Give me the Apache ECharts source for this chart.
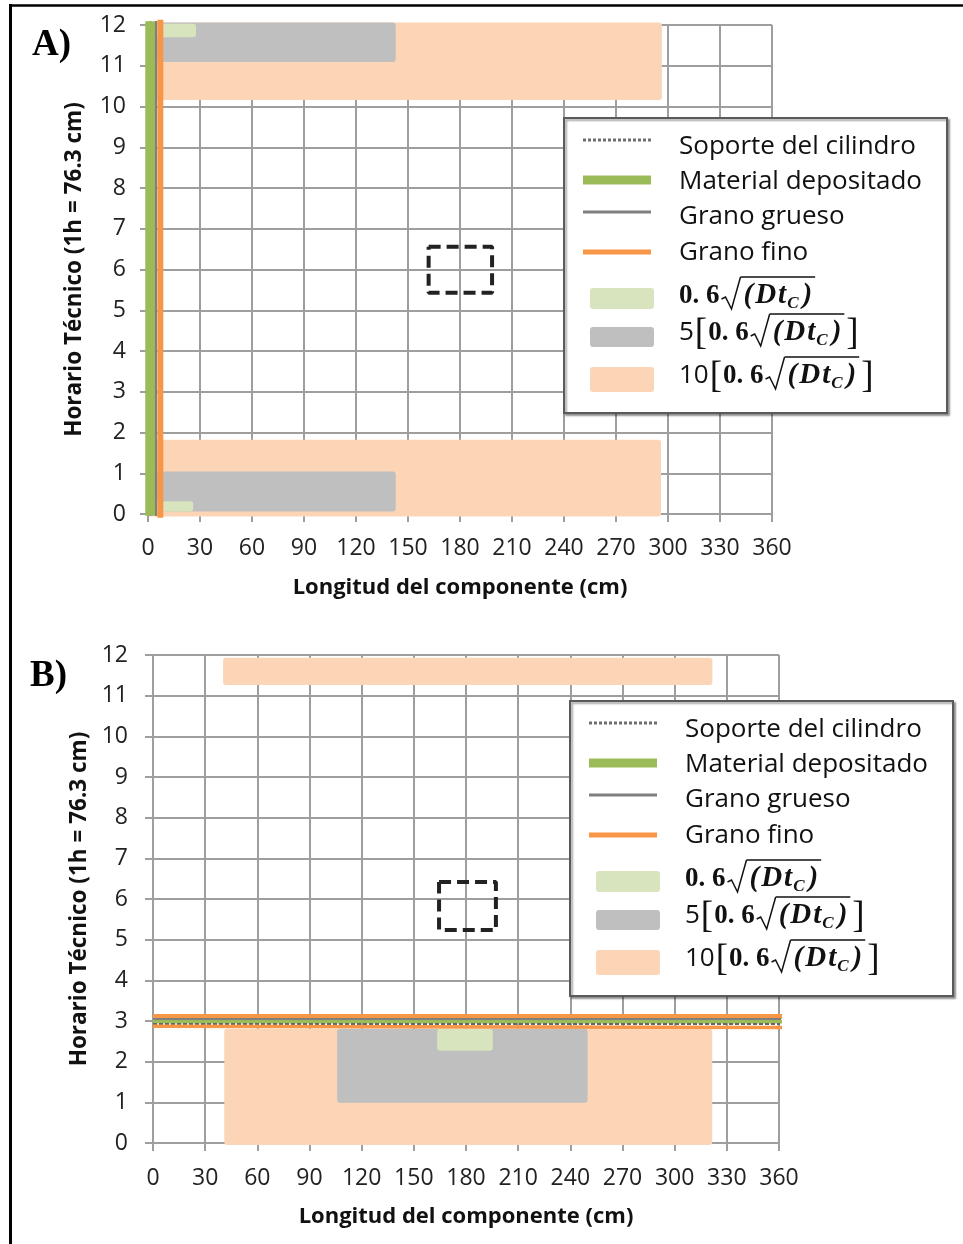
<!DOCTYPE html>
<html>
<head>
<meta charset="utf-8">
<script src="https://cdn.jsdelivr.net/npm/echarts@6/dist/echarts.min.js"></script>
<style>
  html, body { margin: 0; padding: 0; background: #fff; }
  #chart { width: 963px; height: 1244px; }
</style>
</head>
<body>
<div id="chart"></div>
<script>
// ejes
const xTicks = [0, 30, 60, 90, 120, 150, 180, 210, 240, 270, 300, 330, 360];
const yTicks = [0, 1, 2, 3, 4, 5, 6, 7, 8, 9, 10, 11, 12];

// Panel A - zonas [x0, x1, y0, y1]
const zonaA10 = [[0, 296.5, 10.16, 12.06], [0, 296, -0.06, 1.82]];
const zonaA5 = [[0, 142.9, 11.09, 12.06], [0, 142.9, 0.06, 1.04]];
const zonaA06 = [[0, 27.7, 11.7, 12.03], [0, 26.1, 0.06, 0.31]];
// Panel A - lineas verticales
const soporteA = [[1.3, -0.04], [1.3, 12.09]];
const materialA = [[1.3, -0.04], [1.3, 12.09]];
const gruesoA = [[4.6, -0.05], [4.6, 12.1]];
const finoA = [[7.1, -0.09], [7.1, 12.13]];
const cajaA = [[161.9, 6.56], [198.5, 6.56], [198.5, 5.43], [161.9, 5.43], [161.9, 6.56]];

// Panel B - zonas
const zonaB10 = [[40.3, 321.7, 11.26, 11.93], [41, 321.6, -0.05, 2.81]];
const zonaB5 = [[105.9, 249.9, 0.99, 2.81]];
const zonaB06 = [[163.4, 195.4, 2.27, 2.81]];
// Panel B - lineas horizontales
const finoB1 = [[0, 3.11], [363, 3.11]];
const gruesoB = [[0, 3.04], [363, 3.04]];
const materialB = [[0, 2.98], [363, 2.98]];
const soporteB = [[0, 2.925], [363, 2.925]];
const finoB2 = [[0, 2.87], [363, 2.84]];
const cajaB = [[164.5, 6.42], [197.2, 6.42], [197.2, 5.24], [164.5, 5.24], [164.5, 6.42]];

const C = {
  naranja: '#FBD5B5', gris: '#BFBFBF', verde: '#D7E4BD',
  lVerde: '#9BBB59', lNaranja: '#F79646', lGris: '#7F7F7F', grid: '#9e9e9e'
};
const SANS = '"Open Sans"';
const SERIF = '"Liberation Serif","DejaVu Serif",serif';

const chart = echarts.init(document.getElementById('chart'));

function xAx(g, margin) {
  return {
    type: 'value', gridIndex: g, min: xTicks[0], max: xTicks[xTicks.length - 1], interval: 30,
    name: 'Longitud del componente (cm)', nameLocation: 'middle', nameGap: 63,
    nameTextStyle: { fontFamily: SANS, fontWeight: 'bold', fontSize: 22, color: '#111' },
    axisLine: { show: true, onZero: false, lineStyle: { color: C.grid, width: 2 } },
    axisTick: { show: true, length: 8, lineStyle: { color: C.grid, width: 2 } },
    splitLine: { show: true, lineStyle: { color: C.grid, width: 2 } },
    axisLabel: { fontFamily: SANS, fontSize: 23, color: '#222', margin: margin }
  };
}
function yAx(g, gap, margin) {
  return {
    type: 'value', gridIndex: g, min: yTicks[0], max: yTicks[yTicks.length - 1], interval: 1,
    name: 'Horario Técnico (1h = 76.3 cm)', nameLocation: 'middle', nameGap: gap,
    nameTextStyle: { fontFamily: SANS, fontWeight: 'bold', fontSize: 22.5, color: '#111' },
    axisLine: { show: true, lineStyle: { color: C.grid, width: 2 } },
    axisTick: { show: true, length: 8, lineStyle: { color: C.grid, width: 2 } },
    splitLine: { show: true, lineStyle: { color: C.grid, width: 2 } },
    axisLabel: { fontFamily: SANS, fontSize: 23, color: '#222', margin: margin }
  };
}

function zonas(name, data, color, g) {
  return {
    type: 'custom', name, xAxisIndex: g, yAxisIndex: g, data, clip: false, silent: true,
    renderItem: function (params, api) {
      const p0 = api.coord([api.value(0), api.value(3)]);
      const p1 = api.coord([api.value(1), api.value(2)]);
      return {
        type: 'rect',
        shape: { x: p0[0], y: p0[1], width: p1[0] - p0[0], height: p1[1] - p0[1], r: 3 },
        style: { fill: color }
      };
    }
  };
}
function linea(name, data, color, width, g, dash) {
  return {
    type: 'line', name, xAxisIndex: g, yAxisIndex: g, data, showSymbol: false, clip: false,
    silent: true, animation: false,
    lineStyle: { color, width, type: dash || 'solid' }
  };
}

// leyenda dibujada a mano (formulas)
const ctx = document.createElement('canvas').getContext('2d');
function ancho(t, f) { ctx.font = f; return ctx.measureText(t).width; }

function formula(x0, ym, prefijo) {
  const els = [];
  let x = x0;
  const fN = '26px ' + SANS;
  const fM = 'bold 27px ' + SERIF;
  const fIt = 'bold italic 29px ' + SERIF;
  const fSub = 'bold italic 17px ' + SERIF;
  const fBr = '37px ' + SERIF;
  const seg = (t, f, dy) => {
    els.push({ type: 'text', x: x, y: ym + dy, style: { text: t, font: f, fill: '#111', align: 'left', verticalAlign: 'middle' } });
    x += ancho(t, f);
  };
  if (prefijo) { seg(prefijo, fN, 0); x += 1; seg('[', fBr, 1); x += 1; }
  seg('0. 6', fM, 0);
  x += 2;
  const top = ym - 19;
  els.push({ type: 'polyline', shape: { points: [[x, ym + 3], [x + 4, ym + 1], [x + 10, ym + 13], [x + 19, top]] },
    style: { stroke: '#111', lineWidth: 1.5, fill: null } });
  x += 20;
  const xs = x - 1;
  x += 2;
  seg('(', fIt, 0); x += 2;
  seg('D', fIt, 0); x += 2;
  seg('t', fIt, 0); x += 1;
  seg('C', fSub, 8); x += 4;
  seg(')', fIt, 0);
  const xe = x + 3;
  els.push({ type: 'line', shape: { x1: xs, y1: top, x2: xe, y2: top }, style: { stroke: '#111', lineWidth: 1.5 } });
  if (prefijo) { x += 5; seg(']', fBr, 1); }
  return els;
}

function leyenda(bx, by) {
  const els = [];
  els.push({ type: 'rect', shape: { x: bx, y: by, width: 383, height: 295 },
    style: { fill: '#fff', stroke: '#5a5a5a', lineWidth: 2, shadowColor: 'rgba(0,0,0,0.35)', shadowBlur: 2, shadowOffsetX: 2, shadowOffsetY: 2 } });
  const lx1 = bx + 19, lx2 = bx + 87;
  const filas = [
    { t: 'Soporte del cilindro', y: 22, c: '#6f6f6f', w: 3, d: [3, 2] },
    { t: 'Material depositado', y: 62, c: C.lVerde, w: 9 },
    { t: 'Grano grueso', y: 94, c: C.lGris, w: 3 },
    { t: 'Grano fino', y: 134, c: C.lNaranja, w: 5 }
  ];
  const ty = [29, 64, 99, 135];
  filas.forEach((f, i) => {
    els.push({ type: 'line', shape: { x1: lx1, y1: by + f.y, x2: lx2, y2: by + f.y },
      style: { stroke: f.c, lineWidth: f.w, lineDash: f.d || null } });
    els.push({ type: 'text', x: bx + 115, y: by + ty[i],
      style: { text: f.t, font: '26px ' + SANS, fill: '#111', align: 'left', verticalAlign: 'middle' } });
  });
  const cajas = [
    { c: C.verde, y0: 170, h: 21, ym: 178, p: null },
    { c: C.gris, y0: 209, h: 20, ym: 215, p: '5' },
    { c: C.naranja, y0: 249, h: 25, ym: 258, p: '10' }
  ];
  cajas.forEach(k => {
    els.push({ type: 'rect', shape: { x: bx + 26, y: by + k.y0, width: 64, height: k.h, r: 3 }, style: { fill: k.c } });
    formula(bx + 115, by + k.ym, k.p).forEach(e => els.push(e));
  });
  return els;
}

const graficos = [].concat(
  leyenda(564, 118),
  leyenda(570, 701),
  [
    { type: 'text', x: 32, y: 45, style: { text: 'A)', font: 'bold 37px ' + SERIF, fill: '#000', verticalAlign: 'middle' } },
    { type: 'text', x: 30, y: 676, style: { text: 'B)', font: 'bold 37px ' + SERIF, fill: '#000', verticalAlign: 'middle' } },
    { type: 'line', shape: { x1: 10, y1: 5.5, x2: 963, y2: 5.5 }, style: { stroke: '#000', lineWidth: 2.5 } },
    { type: 'line', shape: { x1: 10.5, y1: 4, x2: 10.5, y2: 1244 }, style: { stroke: '#000', lineWidth: 3 } }
  ]
).map(e => Object.assign({ z: 100 }, e));

chart.setOption({
  animation: false,
  backgroundColor: '#fff',
  grid: [
    { left: 148, top: 25, width: 624, height: 489 },
    { left: 153, top: 655, width: 626, height: 488 }
  ],
  xAxis: [xAx(0, 23), xAx(1, 24)],
  yAxis: [yAx(0, 62, 22), yAx(1, 60, 25)],
  series: [
    zonas('10A', zonaA10, C.naranja, 0),
    zonas('5A', zonaA5, C.gris, 0),
    zonas('06A', zonaA06, C.verde, 0),
    linea('Soporte del cilindro', soporteA, '#555', 2, 0, 'dashed'),
    linea('Material depositado', materialA, C.lVerde, 10, 0),
    linea('Grano grueso', gruesoA, C.lGris, 2, 0),
    linea('Grano fino', finoA, C.lNaranja, 6, 0),
    linea('cajaA', cajaA, '#222', 4, 0, [12, 6]),

    zonas('10B', zonaB10, C.naranja, 1),
    zonas('5B', zonaB5, C.gris, 1),
    zonas('06B', zonaB06, C.verde, 1),
    linea('Grano fino', finoB1, C.lNaranja, 5, 1),
    linea('Grano grueso', gruesoB, C.lGris, 2.5, 1),
    linea('Material depositado', materialB, C.lVerde, 3.5, 1),
    linea('Soporte del cilindro', soporteB, '#666', 2, 1, [4, 2]),
    linea('Grano fino', finoB2, C.lNaranja, 3.5, 1),
    linea('cajaB', cajaB, '#222', 4, 1, [12, 6])
  ],
  graphic: { elements: graficos }
});
</script>
</body>
</html>
